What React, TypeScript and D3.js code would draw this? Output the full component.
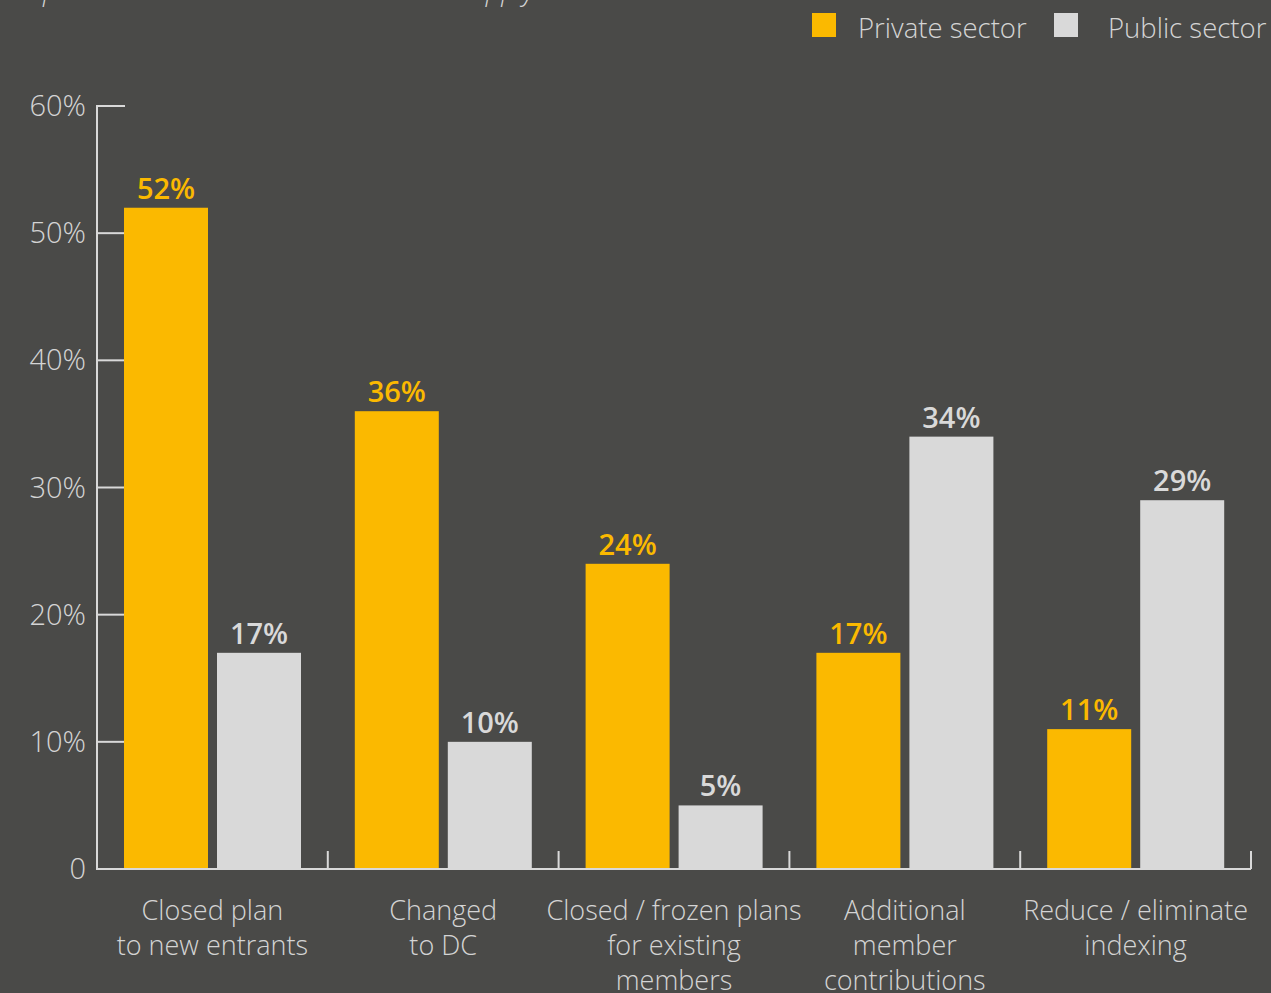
import React from "react";
import * as d3 from "d3";

const categories: string[][] = [
  ["Closed plan", "to new entrants"],
  ["Changed", "to DC"],
  ["Closed / frozen plans", "for existing", "members"],
  ["Additional", "member", "contributions"],
  ["Reduce / eliminate", "indexing"],
];
const privateValues = [52, 36, 24, 17, 11];
const publicValues = [17, 10, 5, 34, 29];
const yTicks = [0, 10, 20, 30, 40, 50, 60];
const seriesNames = ["Private sector", "Public sector"];
const subtitle = "respondents were able to select all that apply.";

const W = 1271;
const H = 993;
const BG = "#4a4a48";
const YELLOW = "#fbb900";
const GREY = "#d9d9d9";
const TEXT = "#d4d4d4";
const FONT = "'Open Sans', 'Noto Sans', sans-serif";

export default function App() {
  const x0 = 97;
  const x1 = 1251;
  const yZero = 869;
  const yTop = 106;
  const y = d3.scaleLinear().domain([0, 60]).range([yZero, yTop]);
  const idx = categories.map((_, i) => i);
  const xBand = d3.scaleBand<number>().domain(idx).range([x0, x1]).paddingInner(0).paddingOuter(0);
  const bw = xBand.bandwidth();
  const inner = d3.scaleBand<number>().domain([0, 1]).range([27, 27 + 84 * 2 + 9]).paddingInner(9 / 93);
  const barW = inner.bandwidth();
  const series = [privateValues, publicValues];
  const colors = [YELLOW, GREY];

  return (
    <div style={{ position: "absolute", left: 0, top: 0, width: W, height: H, background: BG }}>
      <svg width={W} height={H} style={{ display: "block" }} fontFamily={FONT}>
        <rect x={0} y={0} width={W} height={H} fill={BG} />
        <text x={8} y={0} fontSize={27} fontStyle="italic" fontWeight={300} fill={TEXT}>
          {subtitle}
        </text>
        {/* legend */}
        {seriesNames.map((n, i) => {
          const lx = i === 0 ? 812 : 1054;
          return (
            <g key={n}>
              <rect x={lx} y={13} width={24} height={24} fill={colors[i]} />
              <text x={lx + (i === 0 ? 46 : 54)} y={38} fontSize={27.5} fontWeight={300} fill={TEXT}>
                {n}
              </text>
            </g>
          );
        })}
        {/* y axis */}
        <line x1={x0} x2={x0} y1={yTop - 1} y2={yZero + 1} stroke={GREY} strokeWidth={2} />
        {yTicks.map((t) => (
          <g key={t}>
            {t > 0 && <line x1={x0} x2={x0 + 28} y1={y(t)} y2={y(t)} stroke={GREY} strokeWidth={2} />}
            <text x={86} y={y(t)} dy="0.35em" textAnchor="end" fontSize={29} fontWeight={300} fill={TEXT}>
              {t === 0 ? "0" : `${t}%`}
            </text>
          </g>
        ))}
        {/* bars */}
        {idx.map((i) => (
          <g key={i} transform={`translate(${xBand(i)},0)`}>
            {series.map((s, j) => (
              <g key={j}>
                <rect x={inner(j)} y={y(s[i])} width={barW} height={yZero - y(s[i])} fill={colors[j]} />
                <text
                  x={(inner(j) as number) + barW / 2}
                  y={y(s[i]) - 9}
                  textAnchor="middle"
                  fontSize={29}
                  fontWeight={600}
                  fill={j === 0 ? YELLOW : GREY}
                >
                  {s[i]}%
                </text>
              </g>
            ))}
            {categories[i].map((line, k) => (
              <text key={k} x={bw / 2} y={920 + k * 35} textAnchor="middle" fontSize={27} fontWeight={300} fill={TEXT}>
                {line}
              </text>
            ))}
          </g>
        ))}
        {/* x axis */}
        <line x1={x0} x2={x1} y1={yZero} y2={yZero} stroke={GREY} strokeWidth={2} />
        {idx.map((i) => {
          const bx = (xBand(i) as number) + bw;
          return <line key={i} x1={bx} x2={bx} y1={851} y2={yZero} stroke={GREY} strokeWidth={2} />;
        })}
      </svg>
    </div>
  );
}
